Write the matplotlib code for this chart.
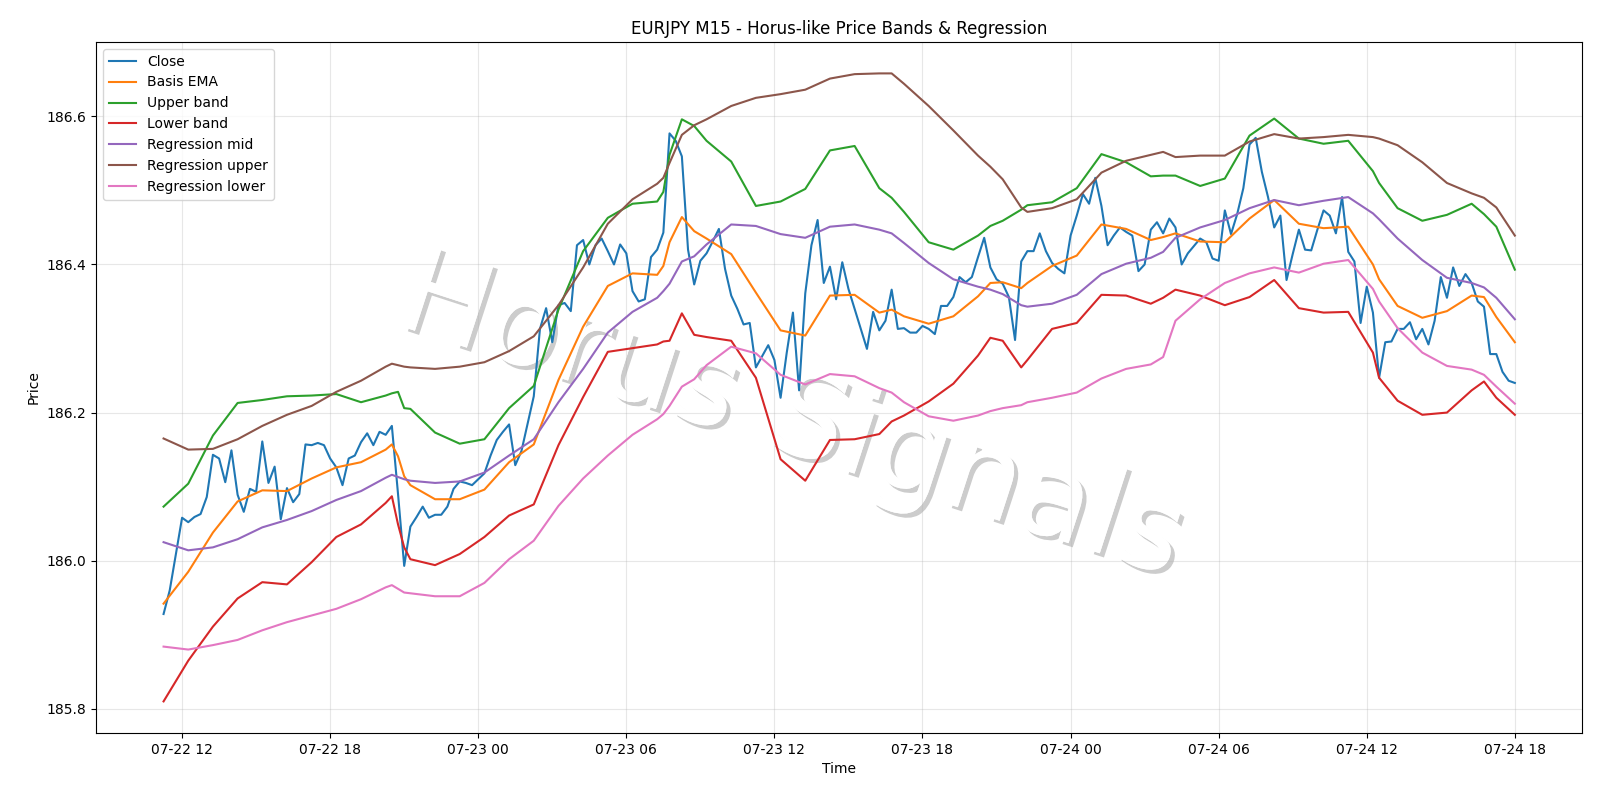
import matplotlib
matplotlib.use("Agg")
import matplotlib.pyplot as plt
import matplotlib.dates as mdates
import matplotlib.patheffects as pe
import pandas as pd

# ---- data ----
start_time = "2025-07-22 11:15"
close = [
    185.928, 185.960, 186.009, 186.058, 186.052, 186.059, 186.063, 186.086, 186.143, 186.138,
    186.106, 186.149, 186.089, 186.066, 186.097, 186.093, 186.161, 186.105, 186.127, 186.056,
    186.098, 186.079, 186.090, 186.157, 186.156, 186.159, 186.156, 186.138, 186.126, 186.102,
    186.138, 186.142, 186.160, 186.172, 186.156, 186.174, 186.170, 186.182, 186.090, 185.993,
    186.046, 186.059, 186.073, 186.058, 186.062, 186.062, 186.073, 186.097, 186.107, 186.105,
    186.102, 186.110, 186.118, 186.142, 186.163, 186.174, 186.184, 186.129, 186.148, 186.185,
    186.222, 186.313, 186.341, 186.295, 186.345, 186.348, 186.337, 186.426, 186.433, 186.400,
    186.426, 186.435, 186.418, 186.400, 186.427, 186.415, 186.364, 186.350, 186.353, 186.410,
    186.420, 186.443, 186.577, 186.567, 186.546, 186.420, 186.373, 186.405, 186.415, 186.431,
    186.448, 186.394, 186.358, 186.340, 186.319, 186.321, 186.261, 186.276, 186.291, 186.271,
    186.220, 186.281, 186.335, 186.230, 186.361, 186.426, 186.460, 186.375, 186.397, 186.353,
    186.403, 186.367, 186.340, 186.313, 186.286, 186.336, 186.311, 186.324, 186.366, 186.313,
    186.314, 186.308, 186.308, 186.317, 186.313, 186.306, 186.344, 186.344, 186.356, 186.383,
    186.376, 186.383, 186.410, 186.436, 186.396, 186.380, 186.374, 186.356, 186.298, 186.404,
    186.418, 186.418, 186.442, 186.418, 186.402, 186.394, 186.388, 186.439, 186.466, 186.495,
    186.482, 186.517, 186.479, 186.426, 186.439, 186.450, 186.444, 186.439, 186.391, 186.400,
    186.447, 186.457, 186.442, 186.462, 186.450, 186.400, 186.415, 186.425, 186.435, 186.430,
    186.408, 186.405, 186.473, 186.441, 186.468, 186.503, 186.562, 186.571, 186.525, 186.491,
    186.450, 186.466, 186.379, 186.414, 186.447, 186.420, 186.419, 186.447, 186.473, 186.466,
    186.442, 186.491, 186.417, 186.404, 186.321, 186.370, 186.335, 186.247, 186.295, 186.296,
    186.313, 186.313, 186.322, 186.299, 186.313, 186.292, 186.324, 186.383, 186.355, 186.396,
    186.371, 186.387, 186.375, 186.350, 186.343, 186.279, 186.279, 186.255, 186.243, 186.240,
]

# bar positions (15-minute steps) at which the smooth series were read
smooth_bars = [0, 4, 8, 12, 16, 20, 24, 28, 32, 36,
               37, 38, 39, 40, 44, 48, 52, 56, 60, 64,
               68, 72, 76, 80, 81, 82, 84, 86, 88, 92,
               96, 100, 104, 108, 112, 116, 118, 120, 124, 128,
               132, 134, 136, 139, 140, 144, 148, 152, 156, 160,
               162, 164, 168, 172, 176, 180, 184, 188, 192, 196,
               197, 200, 204, 208, 212, 214, 216, 219]

basis_ema = [185.942, 185.985, 186.038, 186.080, 186.095, 186.094, 186.111, 186.126, 186.133, 186.150,
             186.157, 186.141, 186.114, 186.102, 186.083, 186.083, 186.096, 186.133, 186.157, 186.244,
             186.316, 186.371, 186.388, 186.386, 186.398, 186.430, 186.464, 186.445, 186.435, 186.414,
             186.362, 186.311, 186.304, 186.358, 186.359, 186.335, 186.339, 186.330, 186.320, 186.330,
             186.357, 186.375, 186.376, 186.368, 186.375, 186.398, 186.412, 186.454, 186.448, 186.433,
             186.437, 186.442, 186.431, 186.430, 186.462, 186.487, 186.455, 186.449, 186.451, 186.400,
             186.380, 186.344, 186.328, 186.337, 186.358, 186.356, 186.329, 186.295]

upper_band = [186.073, 186.104, 186.169, 186.213, 186.217, 186.222, 186.223, 186.225, 186.214, 186.223,
              186.226, 186.228, 186.206, 186.205, 186.173, 186.158, 186.164, 186.206, 186.236, 186.339,
              186.418, 186.463, 186.482, 186.485, 186.498, 186.548, 186.596, 186.587, 186.567, 186.539,
              186.479, 186.485, 186.502, 186.554, 186.560, 186.503, 186.490, 186.471, 186.430, 186.420,
              186.439, 186.452, 186.459, 186.474, 186.480, 186.484, 186.503, 186.549, 186.538, 186.519,
              186.520, 186.520, 186.506, 186.516, 186.574, 186.597, 186.570, 186.563, 186.567, 186.526,
              186.510, 186.476, 186.459, 186.467, 186.482, 186.468, 186.451, 186.393]

lower_band = [185.810, 185.865, 185.911, 185.949, 185.971, 185.968, 185.998, 186.032, 186.049, 186.078,
              186.087, 186.049, 186.018, 186.002, 185.994, 186.009, 186.032, 186.061, 186.076, 186.156,
              186.221, 186.282, 186.287, 186.292, 186.296, 186.297, 186.334, 186.305, 186.302, 186.297,
              186.247, 186.137, 186.108, 186.163, 186.164, 186.171, 186.188, 186.196, 186.215, 186.239,
              186.277, 186.301, 186.297, 186.261, 186.271, 186.313, 186.321, 186.359, 186.358, 186.347,
              186.355, 186.366, 186.358, 186.345, 186.356, 186.379, 186.341, 186.335, 186.336, 186.281,
              186.247, 186.216, 186.197, 186.200, 186.230, 186.242, 186.220, 186.197]

reg_mid = [186.025, 186.014, 186.018, 186.029, 186.045, 186.055, 186.067, 186.082, 186.094, 186.112,
           186.116, 186.113, 186.110, 186.108, 186.105, 186.107, 186.119, 186.142, 186.164, 186.214,
           186.259, 186.308, 186.336, 186.355, 186.364, 186.374, 186.404, 186.411, 186.427, 186.454,
           186.452, 186.441, 186.436, 186.451, 186.454, 186.447, 186.442, 186.429, 186.402, 186.380,
           186.370, 186.366, 186.360, 186.345, 186.343, 186.347, 186.359, 186.387, 186.401, 186.409,
           186.417, 186.436, 186.450, 186.460, 186.476, 186.487, 186.480, 186.486, 186.491, 186.469,
           186.461, 186.435, 186.406, 186.382, 186.375, 186.369, 186.355, 186.326]

reg_upper = [186.165, 186.150, 186.151, 186.164, 186.182, 186.197, 186.209, 186.228, 186.243, 186.262,
             186.266, 186.264, 186.262, 186.261, 186.259, 186.262, 186.268, 186.283, 186.303, 186.345,
             186.396, 186.455, 186.488, 186.509, 186.517, 186.537, 186.575, 186.588, 186.596, 186.614,
             186.625, 186.630, 186.636, 186.651, 186.657, 186.658, 186.658, 186.644, 186.614, 186.581,
             186.547, 186.532, 186.515, 186.477, 186.471, 186.476, 186.488, 186.524, 186.540, 186.548,
             186.552, 186.545, 186.547, 186.547, 186.566, 186.576, 186.570, 186.572, 186.575, 186.572,
             186.570, 186.561, 186.538, 186.510, 186.496, 186.490, 186.477, 186.439]

reg_lower = [185.884, 185.880, 185.886, 185.893, 185.906, 185.917, 185.926, 185.935, 185.948, 185.964,
             185.967, 185.962, 185.957, 185.956, 185.952, 185.952, 185.970, 186.002, 186.027, 186.074,
             186.111, 186.142, 186.170, 186.191, 186.198, 186.209, 186.235, 186.245, 186.264, 186.289,
             186.280, 186.251, 186.238, 186.252, 186.249, 186.233, 186.227, 186.214, 186.195, 186.189,
             186.196, 186.202, 186.206, 186.210, 186.214, 186.220, 186.227, 186.246, 186.259, 186.265,
             186.275, 186.324, 186.353, 186.375, 186.388, 186.396, 186.389, 186.401, 186.406, 186.367,
             186.350, 186.314, 186.281, 186.263, 186.258, 186.251, 186.235, 186.212]

# ---- plot ----
times = pd.date_range(start=start_time, periods=len(close), freq="15min")
smooth_times = times[smooth_bars]

fig = plt.figure(figsize=(16, 8), dpi=100)
ax = fig.add_axes([0.06, 0.084, 0.929, 0.8635])

ax.plot(times, close, label="Close", lw=1.5)
ax.plot(smooth_times, basis_ema, label="Basis EMA", lw=1.5)
ax.plot(smooth_times, upper_band, label="Upper band", lw=1.5)
ax.plot(smooth_times, lower_band, label="Lower band", lw=1.5)
ax.plot(smooth_times, reg_mid, label="Regression mid", lw=1.5)
ax.plot(smooth_times, reg_upper, label="Regression upper", lw=1.5)
ax.plot(smooth_times, reg_lower, label="Regression lower", lw=1.5)

ax.xaxis.set_major_locator(mdates.HourLocator(byhour=[0, 6, 12, 18]))
ax.xaxis.set_major_formatter(mdates.DateFormatter("%m-%d %H"))
ax.grid(True, alpha=0.3)
ax.set_title("EURJPY M15 - Horus-like Price Bands & Regression", fontsize=12)
ax.set_xlabel("Time")
ax.set_ylabel("Price")
ax.legend(loc="upper left")

ax.text(0.468, 0.455, "Horus Signals", transform=ax.transAxes, fontsize=86,
        color="white", rotation=-18, ha="center", va="center", zorder=1,
        path_effects=[pe.withSimplePatchShadow(offset=(3, -3), shadow_rgbFace="gray", alpha=0.4),
                      pe.Normal()])

fig.savefig("out.png", dpi=100)
